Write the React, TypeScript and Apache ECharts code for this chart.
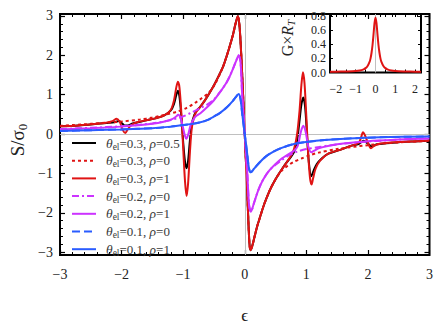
import React, { useEffect, useRef } from 'react';
import * as echarts from 'echarts';

const FONT = "'Liberation Serif', 'DejaVu Serif', serif";

// Axis ticks
const xMajorMain = [-3, -2, -1, 0, 1, 2, 3];
const yMajorMain = [-3, -2, -1, 0, 1, 2, 3];
const yMinorMain = [-2.8, -2.6, -2.4, -2.2, -1.8, -1.6, -1.4, -1.2, -0.8, -0.6, -0.4, -0.2, 0.2, 0.4, 0.6, 0.8, 1.2, 1.4, 1.6, 1.8, 2.2, 2.4, 2.6, 2.8];
const xMajorInset = [-2, -1, 0, 1, 2];
const xTicksInset = [-2, -1.5, -1, -0.5, 0, 0.5, 1, 1.5, 2];
const yMajorInset = [0, 0.2, 0.4, 0.6, 0.8];

// Legend
const thetaEl = ['0.3', '0.3', '0.3', '0.2', '0.2', '0.1', '0.1'];
const rhoVals = ['0.5', '0', '1', '0', '1', '0', '1'];
const colors = ['#000000', '#e01414', '#e01414', '#cc33ff', '#cc33ff', '#2a5cff', '#2a5cff'];
const dashes: (string | number[])[] = ['solid', [3, 3], 'solid', [7, 3, 2, 3], 'solid', [8, 4], 'solid'];

// Series values [epsilon, S/sigma0]
const black05 = [
  [-3, 0.2], [-2.7, 0.22], [-2.4, 0.26], [-2.2, 0.29], [-2.1, 0.31], [-2.04, 0.33], [-1.99, 0.27], [-1.95, 0.22], [-1.9, 0.22], [-1.82, 0.27], [-1.7, 0.31],
  [-1.6, 0.35], [-1.45, 0.4], [-1.3, 0.48], [-1.2, 0.6], [-1.15, 0.76], [-1.11, 1.0], [-1.085, 1.1], [-1.06, 0.95], [-1.03, 0.45], [-1.0, -0.2],
  [-0.97, -0.7], [-0.945, -0.87], [-0.92, -0.68], [-0.89, -0.15], [-0.86, 0.25], [-0.82, 0.48], [-0.78, 0.6], [-0.73, 0.68], [-0.65, 0.85],
  [-0.57, 1.05], [-0.48, 1.3], [-0.41, 1.52], [-0.35, 1.72], [-0.3, 1.95], [-0.25, 2.2], [-0.19, 2.53], [-0.15, 2.8], [-0.11, 3.0], [-0.08, 2.65],
  [-0.04, 1.45], [0, 0], [0.04, -1.45], [0.07, -2.6], [0.09, -2.95], [0.12, -2.85], [0.16, -2.6], [0.2, -2.35], [0.24, -2.15], [0.3, -1.85],
  [0.36, -1.6], [0.43, -1.35], [0.51, -1.12], [0.6, -0.9], [0.68, -0.72], [0.75, -0.58], [0.8, -0.45], [0.85, -0.15], [0.89, 0.35], [0.92, 0.75],
  [0.95, 0.93], [0.98, 0.7], [1.01, 0.0], [1.04, -0.7], [1.08, -1.07], [1.12, -0.92], [1.17, -0.76], [1.25, -0.62], [1.35, -0.5], [1.55, -0.4],
  [1.72, -0.3], [1.85, -0.25], [1.93, -0.17], [2.0, -0.24], [2.06, -0.31], [2.15, -0.26], [2.4, -0.22], [2.7, -0.19], [3, -0.17],
];
const red0 = [
  [-3, 0.21], [-2.5, 0.26], [-2, 0.32], [-1.7, 0.37], [-1.5, 0.42], [-1.3, 0.49], [-1.1, 0.57], [-0.95, 0.66], [-0.8, 0.8], [-0.7, 0.91],
  [-0.6, 1.03], [-0.5, 1.22], [-0.41, 1.5], [-0.35, 1.72], [-0.3, 1.95], [-0.25, 2.2], [-0.19, 2.53], [-0.15, 2.8], [-0.11, 3.0], [-0.08, 2.65],
  [-0.04, 1.45], [0, 0], [0.04, -1.45], [0.07, -2.6], [0.09, -2.95], [0.12, -2.85], [0.16, -2.6], [0.2, -2.35], [0.24, -2.15], [0.3, -1.85],
  [0.36, -1.6], [0.43, -1.35], [0.51, -1.12], [0.6, -0.93], [0.7, -0.8], [0.8, -0.7], [0.92, -0.62], [1.05, -0.54], [1.2, -0.47], [1.5, -0.38],
  [2, -0.28], [2.5, -0.21], [3, -0.17],
];
const red1 = [
  [-3, 0.2], [-2.7, 0.22], [-2.4, 0.26], [-2.25, 0.29], [-2.15, 0.33], [-2.08, 0.39], [-2.03, 0.31], [-1.98, 0.1], [-1.94, 0.03], [-1.9, 0.12],
  [-1.85, 0.22], [-1.75, 0.3], [-1.6, 0.35], [-1.45, 0.4], [-1.3, 0.48], [-1.2, 0.62], [-1.15, 0.85], [-1.11, 1.2], [-1.085, 1.33], [-1.06, 1.18],
  [-1.03, 0.55], [-1.0, -0.35], [-0.97, -1.2], [-0.945, -1.57], [-0.92, -1.25], [-0.89, -0.45], [-0.86, 0.15], [-0.82, 0.45], [-0.78, 0.58],
  [-0.73, 0.68], [-0.65, 0.85], [-0.57, 1.05], [-0.48, 1.3], [-0.41, 1.52], [-0.35, 1.72], [-0.3, 1.95], [-0.25, 2.2], [-0.19, 2.53], [-0.15, 2.8],
  [-0.11, 3.0], [-0.08, 2.65], [-0.04, 1.45], [0, 0], [0.04, -1.45], [0.07, -2.6], [0.09, -2.95], [0.12, -2.85], [0.16, -2.6], [0.2, -2.35],
  [0.24, -2.15], [0.3, -1.85], [0.36, -1.6], [0.43, -1.35], [0.51, -1.12], [0.6, -0.9], [0.68, -0.72], [0.75, -0.55], [0.8, -0.38], [0.85, 0.0],
  [0.89, 0.6], [0.92, 1.25], [0.945, 1.57], [0.97, 1.3], [1.0, 0.45], [1.03, -0.5], [1.06, -1.12], [1.085, -1.28], [1.11, -1.12], [1.15, -0.88],
  [1.22, -0.68], [1.35, -0.5], [1.55, -0.4], [1.72, -0.3], [1.85, -0.22], [1.89, -0.08], [1.92, 0.05], [1.96, -0.06], [2.0, -0.22], [2.05, -0.36],
  [2.1, -0.3], [2.2, -0.24], [2.5, -0.2], [2.8, -0.18], [3, -0.16],
];
const mag0 = [
  [-3, 0.13], [-2.5, 0.16], [-2, 0.2], [-1.5, 0.27], [-1.2, 0.36], [-1.0, 0.45], [-0.85, 0.56], [-0.72, 0.66], [-0.6, 0.76], [-0.5, 0.88],
  [-0.4, 1.07], [-0.3, 1.3], [-0.24, 1.48], [-0.18, 1.7], [-0.13, 1.9], [-0.1, 2.0], [-0.07, 1.85], [-0.04, 0.95], [0, 0], [0.04, -0.95],
  [0.07, -1.8], [0.1, -1.97], [0.15, -1.75], [0.22, -1.42], [0.3, -1.15], [0.4, -0.92], [0.5, -0.78], [0.6, -0.66], [0.73, -0.53], [0.86, -0.44],
  [1.0, -0.38], [1.2, -0.33], [1.5, -0.26], [2, -0.19], [2.5, -0.14], [3, -0.11],
];
const mag1 = [
  [-3, 0.12], [-2.5, 0.15], [-2, 0.19], [-1.5, 0.26], [-1.3, 0.32], [-1.18, 0.38], [-1.12, 0.44], [-1.08, 0.49], [-1.04, 0.4], [-1.0, 0.15],
  [-0.97, -0.05], [-0.95, -0.12], [-0.92, -0.02], [-0.88, 0.22], [-0.83, 0.38], [-0.78, 0.47], [-0.72, 0.53], [-0.6, 0.7], [-0.5, 0.86],
  [-0.4, 1.07], [-0.3, 1.3], [-0.24, 1.48], [-0.18, 1.7], [-0.13, 1.9], [-0.1, 2.0], [-0.07, 1.85], [-0.04, 0.95], [0, 0], [0.04, -0.95],
  [0.07, -1.8], [0.1, -1.97], [0.15, -1.75], [0.22, -1.42], [0.3, -1.15], [0.4, -0.92], [0.5, -0.76], [0.6, -0.62], [0.7, -0.52], [0.8, -0.42],
  [0.86, -0.3], [0.91, 0.05], [0.95, 0.21], [0.99, 0.05], [1.03, -0.3], [1.08, -0.46], [1.13, -0.42], [1.2, -0.36], [1.35, -0.3], [1.6, -0.24],
  [2.0, -0.18], [2.5, -0.14], [3, -0.11],
];
const blue0 = [
  [-3, 0.08], [-2.5, 0.1], [-2, 0.12], [-1.5, 0.15], [-1.2, 0.19], [-1.0, 0.23], [-0.85, 0.26], [-0.72, 0.3], [-0.6, 0.36], [-0.51, 0.44],
  [-0.4, 0.54], [-0.29, 0.68], [-0.2, 0.83], [-0.15, 0.93], [-0.1, 1.02], [-0.07, 0.9], [-0.04, 0.5], [0, 0], [0.04, -0.5], [0.07, -0.88],
  [0.1, -0.97], [0.15, -0.88], [0.24, -0.72], [0.35, -0.56], [0.46, -0.45], [0.6, -0.35], [0.8, -0.25], [1.0, -0.2], [1.3, -0.15], [1.7, -0.11],
  [2.2, -0.08], [3, -0.06],
];
const blue1 = [
  [-3, 0.08], [-2.5, 0.1], [-2, 0.12], [-1.5, 0.15], [-1.2, 0.19], [-1.0, 0.23], [-0.85, 0.26], [-0.72, 0.3], [-0.6, 0.36], [-0.51, 0.44],
  [-0.4, 0.54], [-0.29, 0.68], [-0.2, 0.83], [-0.15, 0.93], [-0.1, 1.02], [-0.07, 0.9], [-0.04, 0.5], [0, 0], [0.04, -0.5], [0.07, -0.88],
  [0.1, -0.97], [0.15, -0.88], [0.24, -0.72], [0.35, -0.56], [0.46, -0.45], [0.6, -0.35], [0.8, -0.25], [1.0, -0.2], [1.3, -0.15], [1.7, -0.11],
  [2.2, -0.08], [3, -0.06],
];
const seriesValues = [black05, red0, red1, mag0, mag1, blue0, blue1];

// Inset: G x R_T vs epsilon
const insetG = [
  [-2.3, 0.01], [-2, 0.012], [-1.5, 0.015], [-1, 0.02], [-0.8, 0.027], [-0.6, 0.045], [-0.5, 0.062], [-0.4, 0.092], [-0.3, 0.15],
  [-0.25, 0.2], [-0.2, 0.28], [-0.15, 0.39], [-0.1, 0.54], [-0.05, 0.7], [0, 0.78], [0.05, 0.7], [0.1, 0.54], [0.15, 0.39], [0.2, 0.28],
  [0.25, 0.2], [0.3, 0.15], [0.4, 0.092], [0.5, 0.062], [0.6, 0.045], [0.8, 0.027], [1, 0.02], [1.5, 0.015], [2, 0.012], [2.3, 0.01],
];

const minus = (v: number | string) => String(v).replace('-', '\u2212');

export default function App() {
  const ref = useRef<HTMLDivElement>(null);
  useEffect(() => {
    const chart = echarts.init(ref.current!, null, { renderer: 'svg' });
    const names = thetaEl.map((t, i) => `θel=${t}, ρ=${rhoVals[i]}`);
    const richNames: Record<string, string> = {};
    names.forEach((n, i) => {
      richNames[n] = `{i0|θ}{s|el}{n|=${thetaEl[i]}, }{i|ρ}{n|=${rhoVals[i]}}`;
    });
    const txt = '#3a3a3a';
    const tickLabel = { fontFamily: FONT, fontSize: 14, color: '#222' };
    const noLine = { show: false, onZero: false };
    const mainSeries = seriesValues.map((d, i) => ({
      name: names[i],
      type: 'line',
      xAxisIndex: 0,
      yAxisIndex: 0,
      data: d,
      symbol: 'none',
      smooth: 0.3,
      z: 3 + i,
      silent: true,
      emphasis: { disabled: true },
      lineStyle: { color: colors[i], width: 2, type: dashes[i] as any },
      itemStyle: { color: colors[i] },
    }));
    const option: any = {
      animation: false,
      backgroundColor: '#fff',
      grid: [
        { left: 60, top: 14, width: 370, height: 247, show: true, borderColor: '#000', borderWidth: 2, backgroundColor: 'transparent' },
        { left: 330, top: 14, width: 91, height: 58.5, show: true, borderColor: '#000', borderWidth: 2, backgroundColor: '#fff' },
      ],
      xAxis: [
        {
          gridIndex: 0, type: 'value', position: 'bottom', min: -3, max: 3, interval: 1,
          axisLine: noLine, splitLine: { show: false },
          axisTick: { inside: true, length: 5, lineStyle: { color: '#000', width: 1.2 } },
          minorTick: { show: true, splitNumber: 5, length: 3, lineStyle: { color: '#000', width: 1 } },
          axisLabel: { ...tickLabel, margin: 12, formatter: (v: number) => minus(v) },
          name: 'ϵ', nameLocation: 'middle', nameGap: 52,
          nameTextStyle: { fontFamily: FONT, fontSize: 17, color: '#222' },
        },
        {
          gridIndex: 0, type: 'value', position: 'top', min: -3, max: 3, interval: 1,
          axisLine: noLine, splitLine: { show: false },
          axisTick: { inside: true, length: 5, lineStyle: { color: '#000', width: 1.2 } },
          minorTick: { show: true, splitNumber: 5, length: 3, lineStyle: { color: '#000', width: 1 } },
          axisLabel: { show: false },
        },
        {
          gridIndex: 1, type: 'value', position: 'bottom', min: -2.3, max: 2.3,
          axisLine: noLine, splitLine: { show: false },
          axisTick: { inside: true, length: 3, customValues: xTicksInset, lineStyle: { color: '#000', width: 1 } },
          axisLabel: { fontFamily: FONT, fontSize: 12, color: '#222', margin: 10, customValues: xMajorInset, formatter: (v: number) => minus(v) },
        },
        {
          gridIndex: 1, type: 'value', position: 'top', min: -2.3, max: 2.3,
          axisLine: noLine, splitLine: { show: false },
          axisTick: { inside: true, length: 3, customValues: xTicksInset, lineStyle: { color: '#000', width: 1 } },
          axisLabel: { show: false },
        },
      ],
      yAxis: [
        {
          gridIndex: 0, type: 'value', position: 'left', min: -3.07, max: 3.05,
          axisLine: noLine, splitLine: { show: false },
          axisTick: { inside: true, length: 5, customValues: yMajorMain, lineStyle: { color: '#000', width: 1.2 } },
          axisLabel: { ...tickLabel, margin: 7, customValues: yMajorMain, formatter: (v: number) => minus(v) },
        },
        {
          gridIndex: 0, type: 'value', position: 'left', min: -3.07, max: 3.05,
          axisLine: noLine, splitLine: { show: false },
          axisTick: { inside: true, length: 3, customValues: yMinorMain, lineStyle: { color: '#000', width: 1 } },
          axisLabel: { show: false },
        },
        {
          gridIndex: 0, type: 'value', position: 'right', min: -3.07, max: 3.05,
          axisLine: noLine, splitLine: { show: false },
          axisTick: { inside: true, length: 5, customValues: yMajorMain, lineStyle: { color: '#000', width: 1.2 } },
          axisLabel: { show: false },
        },
        {
          gridIndex: 0, type: 'value', position: 'right', min: -3.07, max: 3.05,
          axisLine: noLine, splitLine: { show: false },
          axisTick: { inside: true, length: 3, customValues: yMinorMain, lineStyle: { color: '#000', width: 1 } },
          axisLabel: { show: false },
        },
        {
          gridIndex: 1, type: 'value', position: 'left', min: 0, max: 0.83,
          axisLine: noLine, splitLine: { show: false },
          axisTick: { inside: true, length: 3, customValues: yMajorInset, lineStyle: { color: '#000', width: 1 } },
          axisLabel: { fontFamily: FONT, fontSize: 12, color: '#222', margin: 4, customValues: yMajorInset, formatter: (v: number) => v.toFixed(1) },
        },
        {
          gridIndex: 1, type: 'value', position: 'right', min: 0, max: 0.83,
          axisLine: noLine, splitLine: { show: false },
          axisTick: { inside: true, length: 3, customValues: yMajorInset, lineStyle: { color: '#000', width: 1 } },
          axisLabel: { show: false },
        },
      ],
      legend: {
        data: names,
        orient: 'vertical',
        left: 66,
        top: 131,
        itemWidth: 24,
        itemHeight: 10,
        itemGap: 2.2,
        selectedMode: false,
        itemStyle: { opacity: 0, borderWidth: 0 },
        formatter: (name: string) => richNames[name],
        textStyle: {
          fontFamily: FONT, fontSize: 13, color: txt,
          rich: {
            i0: { fontFamily: FONT, fontSize: 13.5, fontStyle: 'italic', color: txt, padding: [0, 0, 0, 5] },
            i: { fontFamily: FONT, fontSize: 13.5, fontStyle: 'italic', color: txt },
            s: { fontFamily: FONT, fontSize: 9.5, color: txt, padding: [7, 0, 0, 0] },
            n: { fontFamily: FONT, fontSize: 13, color: txt },
          },
        },
      },
      graphic: [
        {
          type: 'text', x: 17, y: 140, rotation: Math.PI / 2,
          style: {
            text: '{a|S/σ}{b|0}', align: 'center', verticalAlign: 'middle',
            rich: {
              a: { fontFamily: FONT, fontSize: 19, fill: '#222' },
              b: { fontFamily: FONT, fontSize: 13, fill: '#222', padding: [10, 0, 0, 0] },
            },
          },
        },
        {
          type: 'text', x: 287, y: 38, rotation: Math.PI / 2,
          style: {
            text: '{a|G×}{r|R}{t|T}', align: 'center', verticalAlign: 'middle',
            rich: {
              a: { fontFamily: FONT, fontSize: 16, fill: '#222' },
              r: { fontFamily: FONT, fontSize: 16, fontStyle: 'italic', fill: '#222' },
              t: { fontFamily: FONT, fontSize: 11, fontStyle: 'italic', fill: '#222', padding: [8, 0, 0, 0] },
            },
          },
        },
      ],
      series: [
        {
          type: 'line', xAxisIndex: 0, yAxisIndex: 0, data: [], silent: true, z: 1,
          markLine: {
            symbol: 'none', silent: true, animation: false, label: { show: false },
            lineStyle: { color: '#c0c0c0', width: 1, type: 'solid' },
            emphasis: { disabled: true },
            data: [{ yAxis: 0 }, { xAxis: 0 }],
          },
        },
        ...mainSeries,
        {
          type: 'line', xAxisIndex: 2, yAxisIndex: 4, data: [], silent: true, z: 1,
          markLine: {
            symbol: 'none', silent: true, animation: false, label: { show: false },
            lineStyle: { color: '#c0c0c0', width: 1, type: 'solid' },
            emphasis: { disabled: true },
            data: [{ xAxis: 0 }],
          },
        },
        {
          name: 'inset', type: 'line', xAxisIndex: 2, yAxisIndex: 4, data: insetG, symbol: 'none', smooth: 0.3,
          silent: true, z: 5, emphasis: { disabled: true },
          lineStyle: { color: '#e01414', width: 2 },
        },
      ],
    };
    chart.setOption(option);
    return () => chart.dispose();
  }, []);
  return <div ref={ref} style={{ position: 'absolute', left: 0, top: 0, width: 436, height: 329 }} />;
}
